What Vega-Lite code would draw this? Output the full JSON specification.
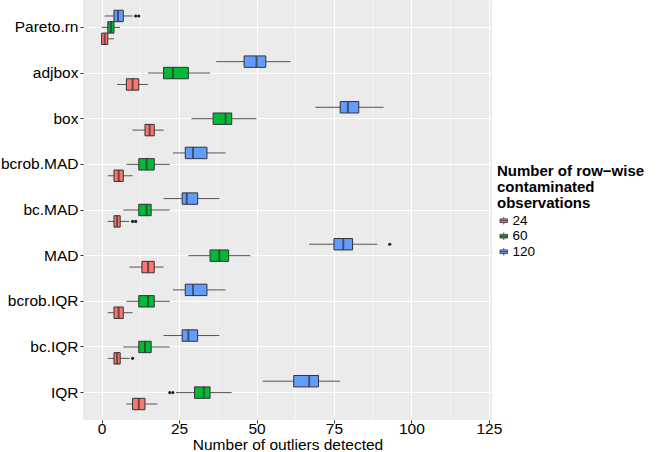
{
  "$schema": "https://vega.github.io/schema/vega-lite/v6.json",
  "width": 409,
  "height": 420,
  "autosize": {"type": "none"},
  "padding": {"left": 83, "top": 0, "right": 174, "bottom": 32},
  "background": "white",
  "config": {
    "view": {"fill": "#EBEBEB", "stroke": null},
    "font": "Liberation Sans",
    "axis": {"labelFont": "Liberation Sans", "titleFont": "Liberation Sans"},
    "legend": {"labelFont": "Liberation Sans", "titleFont": "Liberation Sans"}
  },
  "datasets": {
    "boxes": [
      {"method": "Pareto.rn", "n": 120, "lower": 1, "q1": 4, "median": 5.3, "q3": 7, "upper": 10},
      {"method": "Pareto.rn", "n": 60, "lower": 0, "q1": 2, "median": 3, "q3": 4, "upper": 6},
      {"method": "Pareto.rn", "n": 24, "lower": 0, "q1": 0, "median": 1, "q3": 2, "upper": 4},
      {"method": "adjbox", "n": 120, "lower": 37, "q1": 46, "median": 50, "q3": 53, "upper": 61},
      {"method": "adjbox", "n": 60, "lower": 15, "q1": 20, "median": 23, "q3": 28, "upper": 35},
      {"method": "adjbox", "n": 24, "lower": 5, "q1": 8, "median": 10, "q3": 12, "upper": 15},
      {"method": "box", "n": 120, "lower": 69, "q1": 77, "median": 79.5, "q3": 83, "upper": 91},
      {"method": "box", "n": 60, "lower": 29, "q1": 36, "median": 40, "q3": 42, "upper": 50},
      {"method": "box", "n": 24, "lower": 10, "q1": 14, "median": 15.5, "q3": 17, "upper": 20},
      {"method": "bcrob.MAD", "n": 120, "lower": 23, "q1": 27, "median": 29.5, "q3": 34, "upper": 40},
      {"method": "bcrob.MAD", "n": 60, "lower": 8, "q1": 12, "median": 14.5, "q3": 17, "upper": 22},
      {"method": "bcrob.MAD", "n": 24, "lower": 2, "q1": 4, "median": 5.5, "q3": 7, "upper": 10},
      {"method": "bc.MAD", "n": 120, "lower": 20, "q1": 26, "median": 27.5, "q3": 31, "upper": 38},
      {"method": "bc.MAD", "n": 60, "lower": 7, "q1": 12, "median": 14.5, "q3": 16, "upper": 22},
      {"method": "bc.MAD", "n": 24, "lower": 2, "q1": 4, "median": 5, "q3": 6, "upper": 9},
      {"method": "MAD", "n": 120, "lower": 67, "q1": 75, "median": 78, "q3": 81, "upper": 89},
      {"method": "MAD", "n": 60, "lower": 28, "q1": 35, "median": 38, "q3": 41, "upper": 48},
      {"method": "MAD", "n": 24, "lower": 9, "q1": 13, "median": 15, "q3": 17, "upper": 20},
      {"method": "bcrob.IQR", "n": 120, "lower": 23, "q1": 27, "median": 29.5, "q3": 34, "upper": 40},
      {"method": "bcrob.IQR", "n": 60, "lower": 8, "q1": 12, "median": 15, "q3": 17, "upper": 22},
      {"method": "bcrob.IQR", "n": 24, "lower": 2, "q1": 4, "median": 5.5, "q3": 7, "upper": 10},
      {"method": "bc.IQR", "n": 120, "lower": 20, "q1": 26, "median": 28, "q3": 31, "upper": 38},
      {"method": "bc.IQR", "n": 60, "lower": 7, "q1": 12, "median": 14, "q3": 16, "upper": 22},
      {"method": "bc.IQR", "n": 24, "lower": 2, "q1": 4, "median": 5, "q3": 6, "upper": 9},
      {"method": "IQR", "n": 120, "lower": 52, "q1": 62, "median": 67, "q3": 70, "upper": 77},
      {"method": "IQR", "n": 60, "lower": 24, "q1": 30, "median": 33, "q3": 35, "upper": 42},
      {"method": "IQR", "n": 24, "lower": 8, "q1": 10, "median": 12, "q3": 14, "upper": 18}
    ],
    "outliers": [
      {"method": "Pareto.rn", "n": 120, "value": 11},
      {"method": "Pareto.rn", "n": 120, "value": 12},
      {"method": "bc.MAD", "n": 24, "value": 10},
      {"method": "bc.MAD", "n": 24, "value": 11},
      {"method": "MAD", "n": 120, "value": 93},
      {"method": "bc.IQR", "n": 24, "value": 10},
      {"method": "IQR", "n": 60, "value": 22},
      {"method": "IQR", "n": 60, "value": 23}
    ],
    "minorgrid": [
      {"x": 12.5}, {"x": 37.5}, {"x": 62.5}, {"x": 87.5}, {"x": 112.5}
    ]
  },
  "encoding": {
    "y": {
      "field": "method",
      "type": "nominal",
      "scale": {
        "domain": ["Pareto.rn", "adjbox", "box", "bcrob.MAD", "bc.MAD", "MAD", "bcrob.IQR", "bc.IQR", "IQR"],
        "paddingInner": 0,
        "paddingOuter": 0.1
      },
      "axis": {
        "title": null,
        "domain": false,
        "bandPosition": 0.5,
        "grid": true,
        "gridColor": "white",
        "gridWidth": 1.1,
        "tickColor": "#333333",
        "tickSize": 3,
        "tickWidth": 1,
        "labelFontSize": 15.5,
        "labelColor": "#000000",
        "labelPadding": 2
      }
    },
    "yOffset": {
      "field": "n",
      "type": "nominal",
      "scale": {"domain": [120, 60, 24], "paddingInner": 0, "paddingOuter": 0.5}
    }
  },
  "layer": [
    {
      "data": {"name": "minorgrid"},
      "mark": {"type": "rule", "color": "white", "strokeWidth": 0.55},
      "encoding": {
        "x": {"field": "x", "type": "quantitative"},
        "y": null,
        "yOffset": null
      }
    },
    {
      "data": {"name": "boxes"},
      "mark": {"type": "rule", "color": "#555555", "strokeWidth": 1},
      "encoding": {
        "x": {
          "field": "lower",
          "type": "quantitative",
          "scale": {"domain": [-6, 126], "nice": false, "zero": false},
          "axis": {
            "title": "Number of outliers detected",
            "values": [0, 25, 50, 75, 100, 125],
            "domain": false,
            "grid": true,
            "gridColor": "white",
            "gridWidth": 1.1,
            "tickColor": "#333333",
            "tickSize": 3,
            "tickWidth": 1,
            "labelFontSize": 15.5,
            "labelColor": "#000000",
            "labelPadding": -2,
            "titleFontSize": 15.5,
            "titleFontWeight": "normal",
            "titleColor": "#000000",
            "titlePadding": 1
          }
        },
        "x2": {"field": "upper"}
      }
    },
    {
      "data": {"name": "boxes"},
      "mark": {"type": "bar", "stroke": "#333333", "strokeWidth": 1},
      "encoding": {
        "x": {"field": "q1", "type": "quantitative"},
        "x2": {"field": "q3"},
        "color": {
          "field": "n",
          "type": "nominal",
          "scale": {"domain": [24, 60, 120], "range": ["#F8766D", "#00BA38", "#619CFF"]},
          "legend": {
            "title": ["Number of row\u2212wise", "contaminated", "observations"],
            "orient": "none",
            "legendX": 414,
            "legendY": 164,
            "padding": 0,
            "titleFontSize": 15,
            "titleFontWeight": "bold",
            "titleColor": "#000000",
            "titleLineHeight": 16,
            "titlePadding": 3,
            "labelFontSize": 13.5,
            "labelColor": "#000000",
            "labelOffset": 2,
            "rowPadding": 0.5,
            "symbolType": "M-1,-0.5H1V0.5H-1Z M-1,0H1 M0,-0.5V-1 M0,0.5V1",
            "symbolSize": 56,
            "symbolStrokeColor": "#333333",
            "symbolStrokeWidth": 0.8,
            "symbolOpacity": 1
          }
        }
      }
    },
    {
      "data": {"name": "boxes"},
      "mark": {"type": "tick", "color": "#333333", "thickness": 2, "size": 11.4, "orient": "vertical"},
      "encoding": {
        "x": {"field": "median", "type": "quantitative"}
      }
    },
    {
      "data": {"name": "outliers"},
      "mark": {"type": "point", "filled": true, "color": "#222222", "size": 10, "opacity": 1},
      "encoding": {
        "x": {"field": "value", "type": "quantitative"}
      }
    },
    {
      "mark": {"type": "rule", "color": "#E8575F", "strokeWidth": 1.1, "strokeDash": [4, 3]},
      "encoding": {"x": {"datum": 24, "type": "quantitative"}, "y": null, "yOffset": null}
    },
    {
      "mark": {"type": "rule", "color": "#3D7A3D", "strokeWidth": 1.1, "strokeDash": [4, 3]},
      "encoding": {"x": {"datum": 60, "type": "quantitative"}, "y": null, "yOffset": null}
    },
    {
      "mark": {"type": "rule", "color": "#6B6BD6", "strokeWidth": 1.1, "strokeDash": [4, 3]},
      "encoding": {"x": {"datum": 120, "type": "quantitative"}, "y": null, "yOffset": null}
    }
  ]
}
